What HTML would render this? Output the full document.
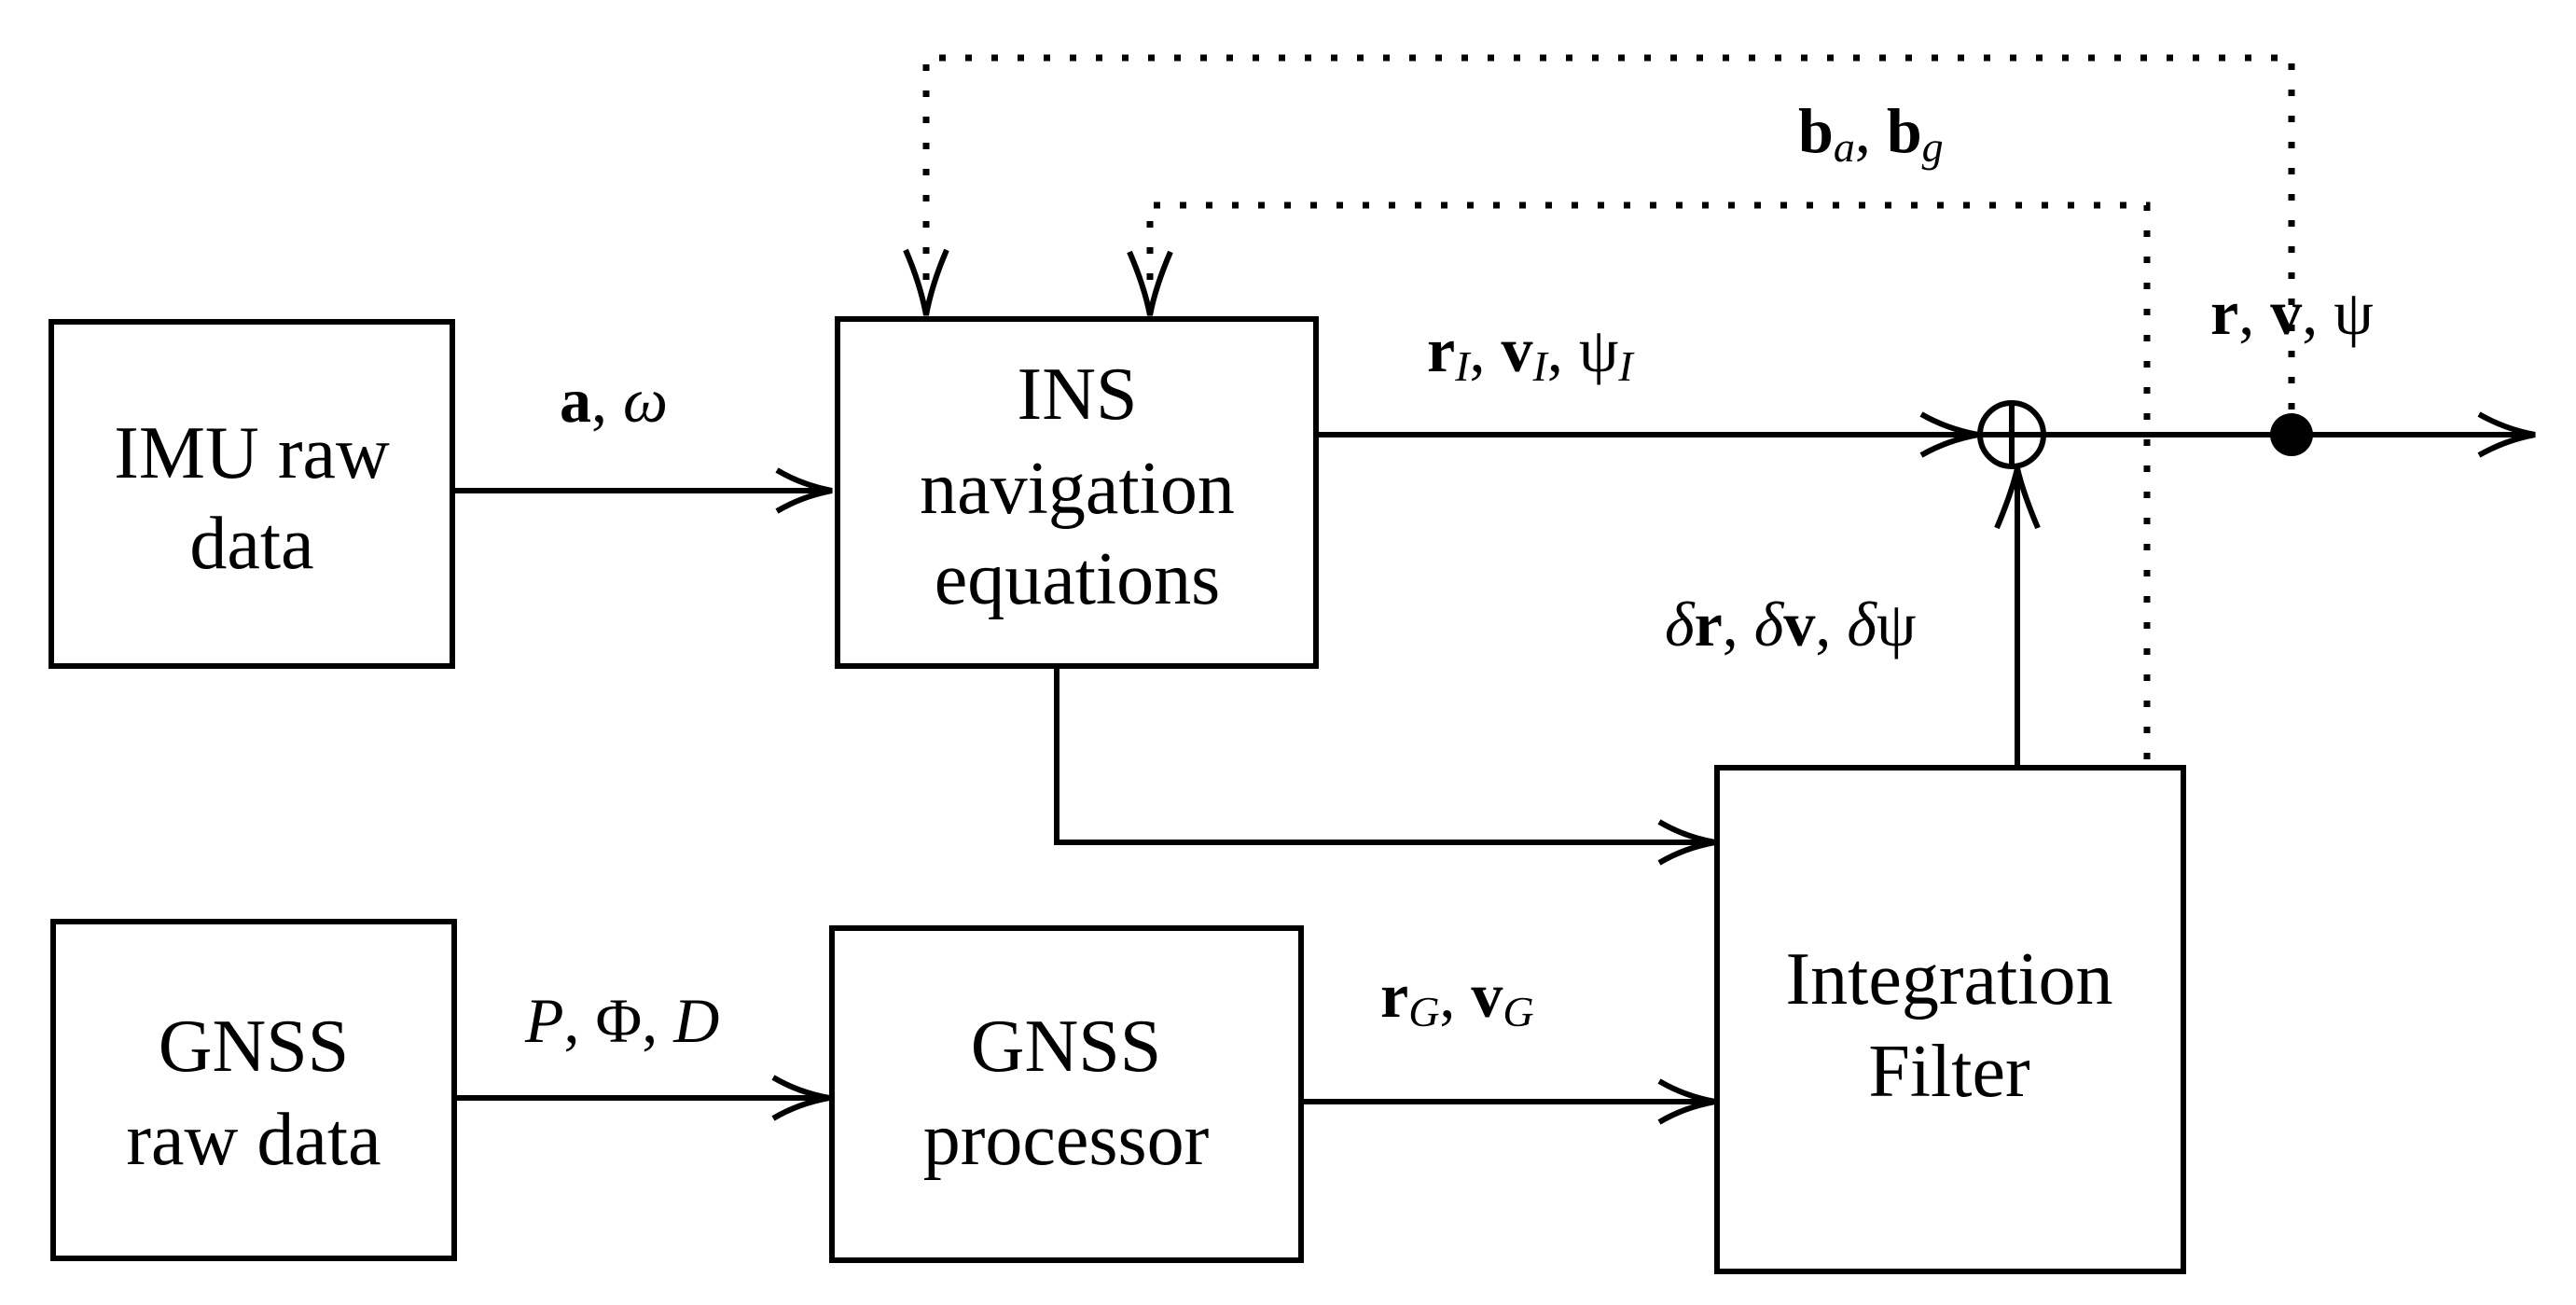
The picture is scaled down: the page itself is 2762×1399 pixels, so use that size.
<!DOCTYPE html>
<html><head><meta charset="utf-8"><style>
html,body{margin:0;padding:0;background:#fff;}
svg{display:block}
text{font-family:"Liberation Serif",serif;fill:#000}
</style></head><body>
<svg width="2762" height="1399" viewBox="0 0 2762 1399" xmlns="http://www.w3.org/2000/svg">
<g fill="none" stroke="#000" stroke-width="6">
<rect x="55" y="345" width="430" height="369"/>
<rect x="898" y="342" width="513" height="372"/>
<rect x="57" y="988" width="430" height="361"/>
<rect x="892" y="995" width="503" height="356"/>
<rect x="1841" y="823" width="500" height="540"/>
<line x1="485" y1="526" x2="890" y2="526"/>
<line x1="1411" y1="466" x2="2716" y2="466"/>
<line x1="2163" y1="823" x2="2163" y2="505"/>
<polyline points="1133,714 1133,903 1835,903"/>
<line x1="487" y1="1177" x2="886" y2="1177"/>
<line x1="1395" y1="1181" x2="1835" y2="1181"/>
<circle cx="2157" cy="466" r="34"/>
<line x1="2157" y1="432" x2="2157" y2="500"/>
</g>
<g fill="none" stroke="#000" stroke-width="6" stroke-linecap="butt">
<path d="M833,504 Q860,520 892,526 Q860,532 833,548"/>
<path d="M2060,444 Q2088,460 2121,466 Q2088,472 2060,488"/>
<path d="M2658,444 Q2686,460 2718,466 Q2686,472 2658,488"/>
<path d="M1779,881 Q1806,897 1839,903 Q1806,909 1779,925"/>
<path d="M829,1155 Q856,1171 889,1177 Q856,1183 829,1199"/>
<path d="M1779,1159 Q1806,1175 1839,1181 Q1806,1187 1779,1203"/>
<path d="M2141,566 Q2157,528 2163,502 Q2169,528 2185,566"/>
<path d="M971,268 Q987,305 993,338 Q999,305 1015,268"/>
<path d="M1211,270 Q1227,307 1233,338 Q1239,307 1255,270"/>
</g>
<circle cx="2457" cy="466" r="23" fill="#000"/>
<g fill="none" stroke="#000" stroke-width="7" stroke-dasharray="7 21">
<polyline points="993,300 993,62 2457,62 2457,440"/>
<polyline points="1233,300 1233,220 2302,220 2302,823"/>
</g>
<g font-size="80" text-anchor="middle" textLength="">
<text x="270" y="512">IMU raw</text>
<text x="270" y="609">data</text>
<text x="1155" y="449">INS</text>
<text x="1155" y="550">navigation</text>
<text x="1155" y="647">equations</text>
<text x="272" y="1148">GNSS</text>
<text x="272" y="1248">raw data</text>
<text x="1143" y="1148">GNSS</text>
<text x="1143" y="1248">processor</text>
<text x="2090" y="1076">Integration</text>
<text x="2090" y="1175">Filter</text>
</g>
<g font-size="68">
<text x="600" y="452"><tspan font-weight="bold">a</tspan>,  <tspan font-style="italic">ω</tspan></text>
<text x="1530" y="398"><tspan font-weight="bold">r</tspan><tspan font-style="italic" font-size="46" dy="10">I</tspan><tspan dy="-10">, </tspan><tspan font-weight="bold">v</tspan><tspan font-style="italic" font-size="46" dy="10">I</tspan><tspan dy="-10">, ψ</tspan><tspan font-style="italic" font-size="46" dy="10">I</tspan></text>
<text x="1928" y="163"><tspan font-weight="bold">b</tspan><tspan font-style="italic" font-size="46" dy="10">a</tspan><tspan dy="-10">, </tspan><tspan font-weight="bold">b</tspan><tspan font-style="italic" font-size="46" dy="10">g</tspan></text>
<text x="2370" y="358"><tspan font-weight="bold">r</tspan>, <tspan font-weight="bold">v</tspan>, ψ</text>
<text x="1785" y="692"><tspan font-style="italic">δ</tspan><tspan font-weight="bold">r</tspan>, <tspan font-style="italic">δ</tspan><tspan font-weight="bold">v</tspan>, <tspan font-style="italic">δ</tspan>ψ</text>
<text x="563" y="1117"><tspan font-style="italic">P</tspan>,  Φ,  <tspan font-style="italic">D</tspan></text>
<text x="1480" y="1090"><tspan font-weight="bold">r</tspan><tspan font-style="italic" font-size="46" dy="10">G</tspan><tspan dy="-10">, </tspan><tspan font-weight="bold">v</tspan><tspan font-style="italic" font-size="46" dy="10">G</tspan></text>
</g>
</svg>
</body></html>
